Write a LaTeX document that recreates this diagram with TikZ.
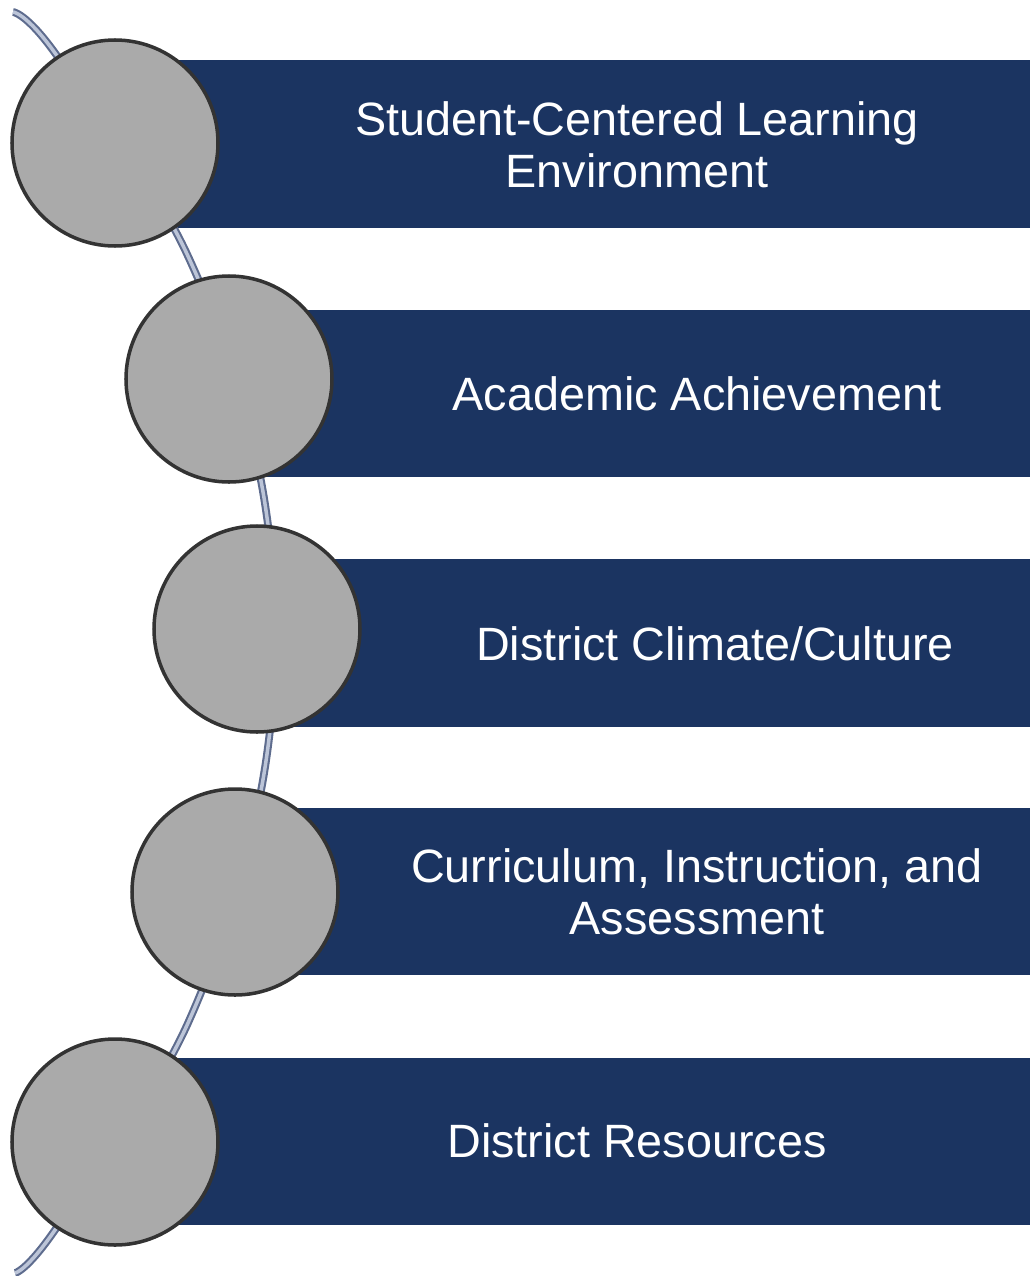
\documentclass[tikz,border=0pt]{standalone}
\usepackage{fontspec}
\setmainfont{Liberation Sans}
\usetikzlibrary{backgrounds}
\definecolor{navy}{HTML}{1B3461}
\definecolor{disc}{HTML}{AAAAAA}
\definecolor{rope}{HTML}{5E6C8E}
\definecolor{ropelight}{HTML}{BCC5D8}
\tikzset{
	bead/.style={circle, draw=black!80, line width=1pt, fill=disc,
		minimum size=2.06cm, inner sep=0pt},
	bar/.style={fill=navy},
	label/.style={text=white, align=center,
		font=\fontsize{13.3}{14.8}\selectfont},
	rope/.style={draw=rope, line width=0.6pt, double=ropelight, double distance=1pt}
}
\begin{document}
\begin{tikzpicture}
	\useasboundingbox (0,0) rectangle (10.30,-12.76);
	% beads
	\node[bead] (c1) at (1.15,-1.43) {};
	\node[bead] (c2) at (2.29,-3.79) {};
	\node[bead] (c3) at (2.57,-6.29) {};
	\node[bead] (c4) at (2.35,-8.92) {};
	\node[bead] (c5) at (1.15,-11.42) {};
	% rope path
	\coordinate (top) at (0.13,-0.12);
	\coordinate (r1)  at (0.55,-0.53);
	\coordinate (g12) at (1.87,-2.54);
	\coordinate (g23) at (2.65,-5.04);
	\coordinate (g34) at (2.66,-7.61);
	\coordinate (g45) at (1.88,-10.23);
	\coordinate (r5)  at (0.55,-12.30);
	\coordinate (bot) at (0.15,-12.73);
	\begin{scope}[on background layer]
		\fill[bar] (c1.center |- 0,-0.60) rectangle (10.30,-2.28);
		\fill[bar] (c2.center |- 0,-3.10) rectangle (10.30,-4.77);
		\fill[bar] (c3.center |- 0,-5.59) rectangle (10.30,-7.27);
		\fill[bar] (c4.center |- 0,-8.08) rectangle (10.30,-9.75);
		\fill[bar] (c5.center |- 0,-10.58) rectangle (10.30,-12.25);
		\draw[rope] plot[smooth, tension=0.6] coordinates
			{(top) (r1) (g12) (g23) (g34) (g45) (r5) (bot)};
	\end{scope}
	% labels
	\node[label] (t1) at (6.37,-1.45) {Student-Centered Learning\\Environment};
	\node[label] (t2) at (6.97,-3.94) {Academic Achievement};
	\node[label] (t3) at (7.15,-6.44) {District Climate/Culture};
	\node[label] (t4) at (6.97,-8.92) {Curriculum, Instruction, and\\Assessment};
	\node[label] (t5) at (6.37,-11.41) {District Resources};
\end{tikzpicture}
\end{document}
